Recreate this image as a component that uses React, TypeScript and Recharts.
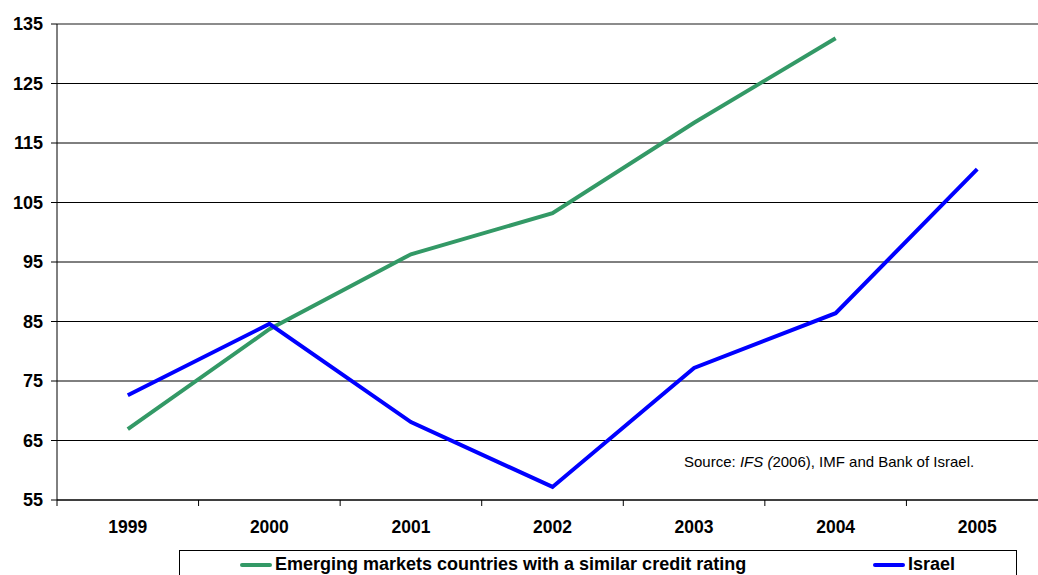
import React from 'react';
import {
  LineChart,
  Line,
  XAxis,
  YAxis,
  CartesianGrid,
  ReferenceLine,
  Legend,
} from 'recharts';

const years = ['1999', '2000', '2001', '2002', '2003', '2004', '2005'];
const emergingMarkets = [66.9, 83.7, 96.3, 103.2, 118.4, 132.6, null];
const israel = [72.6, 84.6, 68.1, 57.2, 77.2, 86.4, 110.6];
const yTicks = [55, 65, 75, 85, 95, 105, 115, 125, 135];

const seriesNames = {
  emerging: 'Emerging markets countries with a similar credit rating',
  israel: 'Israel',
};

const data = years.map((year, i) => ({
  year,
  emerging: emergingMarkets[i],
  israel: israel[i],
}));

const FONT = '"Liberation Sans", Arial, sans-serif';
const GREEN = '#339966';
const BLUE = '#0000FF';

const CHART_WIDTH = 1048;
const Y_AXIS_WIDTH = 57;
const BAND = (CHART_WIDTH - Y_AXIS_WIDTH) / years.length;

// year label centred in its band, small tick on the band's left edge
function YearTick(props: any) {
  const { x, y, payload } = props;
  return (
    <g>
      <line x1={x - BAND / 2} y1={y} x2={x - BAND / 2} y2={y + 6} stroke="#000" />
      <text
        x={x}
        y={y + 33}
        textAnchor="middle"
        fontFamily={FONT}
        fontSize={17.5}
        fontWeight="bold"
        fill="#000"
      >
        {payload.value}
      </text>
    </g>
  );
}

function LegendBox() {
  const item = (color: string, label: string, left: number) => (
    <div style={{ position: 'absolute', left, top: 3, display: 'flex', alignItems: 'center' }}>
      <span style={{ display: 'inline-block', width: 32, height: 4, background: color, borderRadius: 2 }} />
      <span style={{ marginLeft: 3, fontFamily: FONT, fontWeight: 'bold', fontSize: 18, color: '#000' }}>
        {label}
      </span>
    </div>
  );
  return (
    <div
      style={{
        position: 'relative',
        width: 838,
        height: 40,
        border: '1px solid #000',
        boxSizing: 'border-box',
        background: '#fff',
      }}
    >
      {item(GREEN, seriesNames.emerging, 60)}
      {item(BLUE, seriesNames.israel, 693)}
    </div>
  );
}

export default function App() {
  return (
    <div style={{ position: 'absolute', left: 0, top: 0, background: '#fff' }}>
      <LineChart
        width={CHART_WIDTH}
        height={600}
        data={data}
        margin={{ top: 24, right: 0, bottom: 60, left: 0 }}
      >
        <CartesianGrid vertical={false} stroke="#000" />
        <XAxis
          dataKey="year"
          scale="band"
          height={40}
          axisLine={{ stroke: '#000' }}
          tickLine={false}
          tickSize={0}
          tickMargin={0}
          tick={<YearTick />}
          interval={0}
        />
        <YAxis
          width={Y_AXIS_WIDTH}
          domain={[55, 135]}
          ticks={yTicks}
          interval={0}
          axisLine={{ stroke: '#000' }}
          tickLine={{ stroke: '#000' }}
          tickSize={6}
          tickMargin={8}
          tick={{ fill: '#000', fontSize: 18, fontWeight: 'bold', fontFamily: FONT }}
        />
        <ReferenceLine y={135} stroke="#8c8c8c" strokeWidth={2} />
        <Line
          type="linear"
          dataKey="emerging"
          name={seriesNames.emerging}
          stroke={GREEN}
          strokeWidth={4}
          dot={false}
          isAnimationActive={false}
        />
        <Line
          type="linear"
          dataKey="israel"
          name={seriesNames.israel}
          stroke={BLUE}
          strokeWidth={4}
          dot={false}
          isAnimationActive={false}
        />
        <text x={684} y={467} fontFamily={FONT} fontSize={15} fill="#000">
          Source: <tspan fontStyle="italic">IFS (</tspan>2006), IMF and Bank of Israel.
        </text>
        <Legend
          layout="vertical"
          align="center"
          verticalAlign="middle"
          wrapperStyle={{ left: 179, top: 550, width: 838 }}
          content={<LegendBox />}
        />
      </LineChart>
    </div>
  );
}
